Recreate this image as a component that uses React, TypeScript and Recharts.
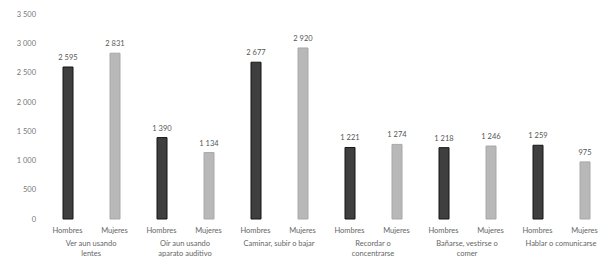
import { Bar, BarChart, Cell, LabelList, XAxis, YAxis } from "recharts";

// Personas con discapacidad por tipo de dificultad y sexo
const grupos = [
    ["Ver aun usando", "lentes"],
    ["Oír aun usando", "aparato auditivo"],
    ["Caminar, subir o bajar"],
    ["Recordar o", "concentrarse"],
    ["Bañarse, vestirse o", "comer"],
    ["Hablar o comunicarse"],
];
const sexos = ["Hombres", "Mujeres"];
const hombres = [2595, 1390, 2677, 1221, 1218, 1259];
const mujeres = [2831, 1134, 2920, 1274, 1246, 975];
const yTicks = [0, 500, 1000, 1500, 2000, 2500, 3000, 3500];

const data = grupos.flatMap((g, i) => [
    { sexo: sexos[0], grupo: i, valor: hombres[i] },
    { sexo: sexos[1], grupo: i, valor: mujeres[i] },
]);

// separador de miles con espacio (no separable para que no se parta)
const fmt = (v: number) => String(v).replace(/\B(?=(\d{3})+(?!\d))/g, "\u00a0");

const FONT = "Lato, 'Open Sans', sans-serif";

function SexoTick(props: any) {
    const { x, y, payload, index } = props;
    const band = 565 / data.length;
    const lines = index % 2 === 0 ? grupos[data[index].grupo] : [];
    return (
        <g>
            <text x={x} y={y + 6} textAnchor="middle" fontSize={7.5} fill="#666" fontFamily={FONT}>
                {payload.value}
            </text>
            {lines.map((l, k) => (
                <text
                    key={k}
                    x={x + band / 2}
                    y={y + 19 + k * 10}
                    textAnchor="middle"
                    fontSize={7.5}
                    fill="#666"
                    fontFamily={FONT}
                >
                    {l}
                </text>
            ))}
        </g>
    );
}

export default function App() {
    return (
        <div style={{ position: "absolute", left: 0, top: 0, background: "#fff" }}>
            <BarChart
                width={608}
                height={260}
                data={data}
                margin={{ top: 14, right: 0, bottom: 0, left: 0 }}
                barCategoryGap={0}
            >
                <XAxis
                    dataKey="sexo"
                    axisLine={false}
                    tickLine={false}
                    interval={0}
                    height={41}
                    tick={<SexoTick />}
                />
                <YAxis
                    type="number"
                    domain={[0, 3500]}
                    ticks={yTicks}
                    width={44}
                    axisLine={false}
                    tickLine={false}
                    tickFormatter={fmt}
                    tick={{ fontSize: 7.5, fill: "#777", fontFamily: FONT }}
                />
                <Bar dataKey="valor" barSize={10} isAnimationActive={false}>
                    {data.map((d, i) => (
                        <Cell
                            key={i}
                            fill={i % 2 === 0 ? "#3f3f3f" : "#b8b8b8"}
                            stroke={i % 2 === 0 ? "#151515" : "#a8a8a8"}
                            strokeWidth={1}
                        />
                    ))}
                    <LabelList
                        dataKey="valor"
                        position="top"
                        offset={7}
                        formatter={(v: any) => fmt(v)}
                        style={{ fontSize: 7.5, fill: "#555", fontFamily: FONT }}
                    />
                </Bar>
            </BarChart>
        </div>
    );
}
